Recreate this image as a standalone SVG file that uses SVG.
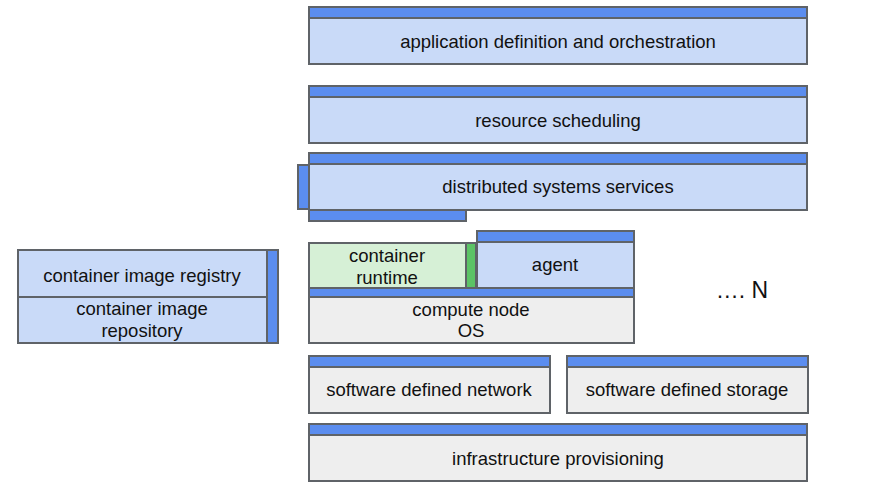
<svg xmlns="http://www.w3.org/2000/svg" width="879" height="492" viewBox="0 0 879 492">
<style>
rect{stroke:#5f6368;stroke-width:2}
.bar{fill:#5b8def}
.blue{fill:#c9daf8}
.gray{fill:#eeeeee}
.lgreen{fill:#d6f0d6}
.green{fill:#5cc366}
text{font-family:"Liberation Sans",Arial,sans-serif;font-size:18.5px;fill:#111;text-anchor:middle}
</style>
<rect width="879" height="492" fill="#fff" style="stroke:none"/>
<g id="app-orchestration">
<rect class="bar" x="309" y="7" width="498" height="11"/>
<rect class="blue" x="309" y="18" width="498" height="46"/>
<text x="558" y="48">application definition and orchestration</text>
</g>
<g id="resource-scheduling">
<rect class="bar" x="309" y="86" width="498" height="11"/>
<rect class="blue" x="309" y="97" width="498" height="46"/>
<text x="558" y="127">resource scheduling</text>
</g>
<g id="distributed-systems">
<rect class="bar" x="298" y="165" width="11" height="44"/>
<rect class="bar" x="309" y="210" width="157" height="11"/>
<rect class="bar" x="309" y="153" width="498" height="11"/>
<rect class="blue" x="309" y="164" width="498" height="46"/>
<text x="558" y="193">distributed systems services</text>
</g>
<g id="container-runtime">
<rect class="lgreen" x="309" y="243" width="157" height="45"/>
<rect class="green" x="466" y="243" width="10" height="45"/>
<text x="387" y="262">container</text>
<text x="387" y="284">runtime</text>
</g>
<g id="agent">
<rect class="bar" x="477" y="231" width="157" height="11"/>
<rect class="blue" x="477" y="242" width="157" height="46"/>
<text x="555" y="271">agent</text>
</g>
<g id="compute-node">
<rect class="bar" x="309" y="288" width="325" height="9"/>
<rect class="gray" x="309" y="297" width="325" height="46"/>
<text x="471" y="316">compute node</text>
<text x="471" y="337">OS</text>
</g>
<g id="registry">
<rect class="bar" x="267" y="250" width="11" height="93"/>
<rect class="blue" x="18" y="250" width="249" height="47"/>
<rect class="blue" x="18" y="297" width="249" height="46"/>
<text x="142" y="282">container image registry</text>
<text x="142" y="315">container image</text>
<text x="142" y="337">repository</text>
</g>
<g id="n-label">
<text x="742" y="298" style="font-size:23px">…. N</text>
</g>
<g id="sdn">
<rect class="bar" x="309" y="356" width="241" height="11"/>
<rect class="gray" x="309" y="367" width="241" height="46"/>
<text x="429" y="396">software defined network</text>
</g>
<g id="sds">
<rect class="bar" x="567" y="356" width="241" height="11"/>
<rect class="gray" x="567" y="367" width="241" height="46"/>
<text x="687" y="396">software defined storage</text>
</g>
<g id="infrastructure">
<rect class="bar" x="309" y="424" width="498" height="11"/>
<rect class="gray" x="309" y="435" width="498" height="46"/>
<text x="558" y="465">infrastructure provisioning</text>
</g>
<g id="connectors"></g>
</svg>
